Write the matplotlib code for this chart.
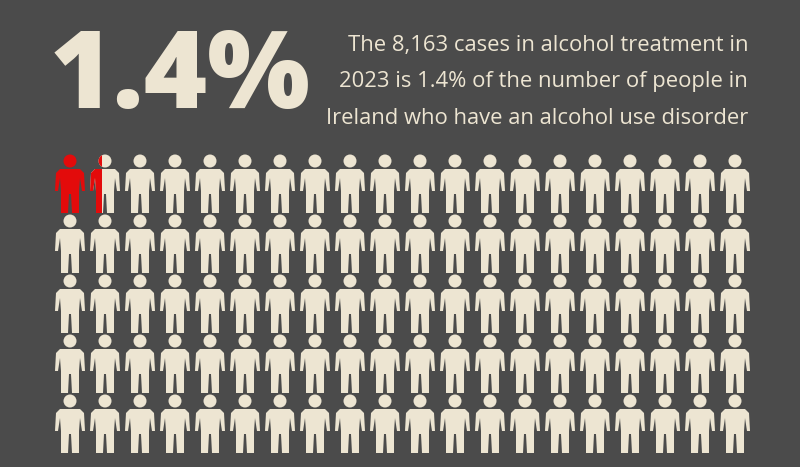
import matplotlib
matplotlib.use("Agg")
import matplotlib.pyplot as plt
from matplotlib.patches import Circle, Polygon, Rectangle

percent = 1.4
n_cols = 20
n_rows = 5
headline = "1.4%"
caption = ["The 8,163 cases in alcohol treatment in",
           "2023 is 1.4% of the number of people in",
           "Ireland who have an alcohol use disorder"]

BG = "#4b4b4b"; CREAM = "#ede5d2"; RED = "#e30b0b"
fig = plt.figure(figsize=(8, 4.67), dpi=100, facecolor=BG)
ax = fig.add_axes([0, 0, 1, 1])
ax.set_xlim(0, 800); ax.set_ylim(467, 0); ax.axis("off")
ax.set_facecolor(BG)

ax.text(50, 80, headline, fontsize=78, fontweight="heavy", family="Open Sans",
        color=CREAM, va="center", ha="left")
for i, line in enumerate(caption):
    ax.text(748, 46 + i * 36, line, fontsize=15.8, family="Open Sans",
            color=CREAM, ha="right", va="center")

def person(cx, top, color, clip=None):
    head = Circle((cx, top + 7), 6.5, color=color, lw=0)
    pts = [(-10, 15), (10, 15), (14, 19), (15, 37), (12, 37), (10, 24), (9, 37),
           (9, 59), (2, 59), (1, 40), (-1, 40), (-2, 59), (-9, 59), (-9, 37),
           (-10, 24), (-12, 37), (-15, 37), (-14, 19)]
    body = Polygon([(cx + x, top + y) for x, y in pts], closed=True, color=color, lw=0)
    for p in (head, body):
        ax.add_patch(p)
        if clip is not None:
            p.set_clip_path(clip)

full = int(percent)
frac = percent - full
for r in range(n_rows):
    for c in range(n_cols):
        idx = r * n_cols + c
        cx = 70 + c * 35; top = 154 + r * 60
        if idx < full:
            person(cx, top, RED)
        else:
            person(cx, top, CREAM)
            if idx == full and frac > 0:
                clip = Rectangle((cx - 16, top - 2), 32 * frac, 70, transform=ax.transData)
                person(cx, top, RED, clip=clip)

fig.savefig("out.png", dpi=100, facecolor=BG)
